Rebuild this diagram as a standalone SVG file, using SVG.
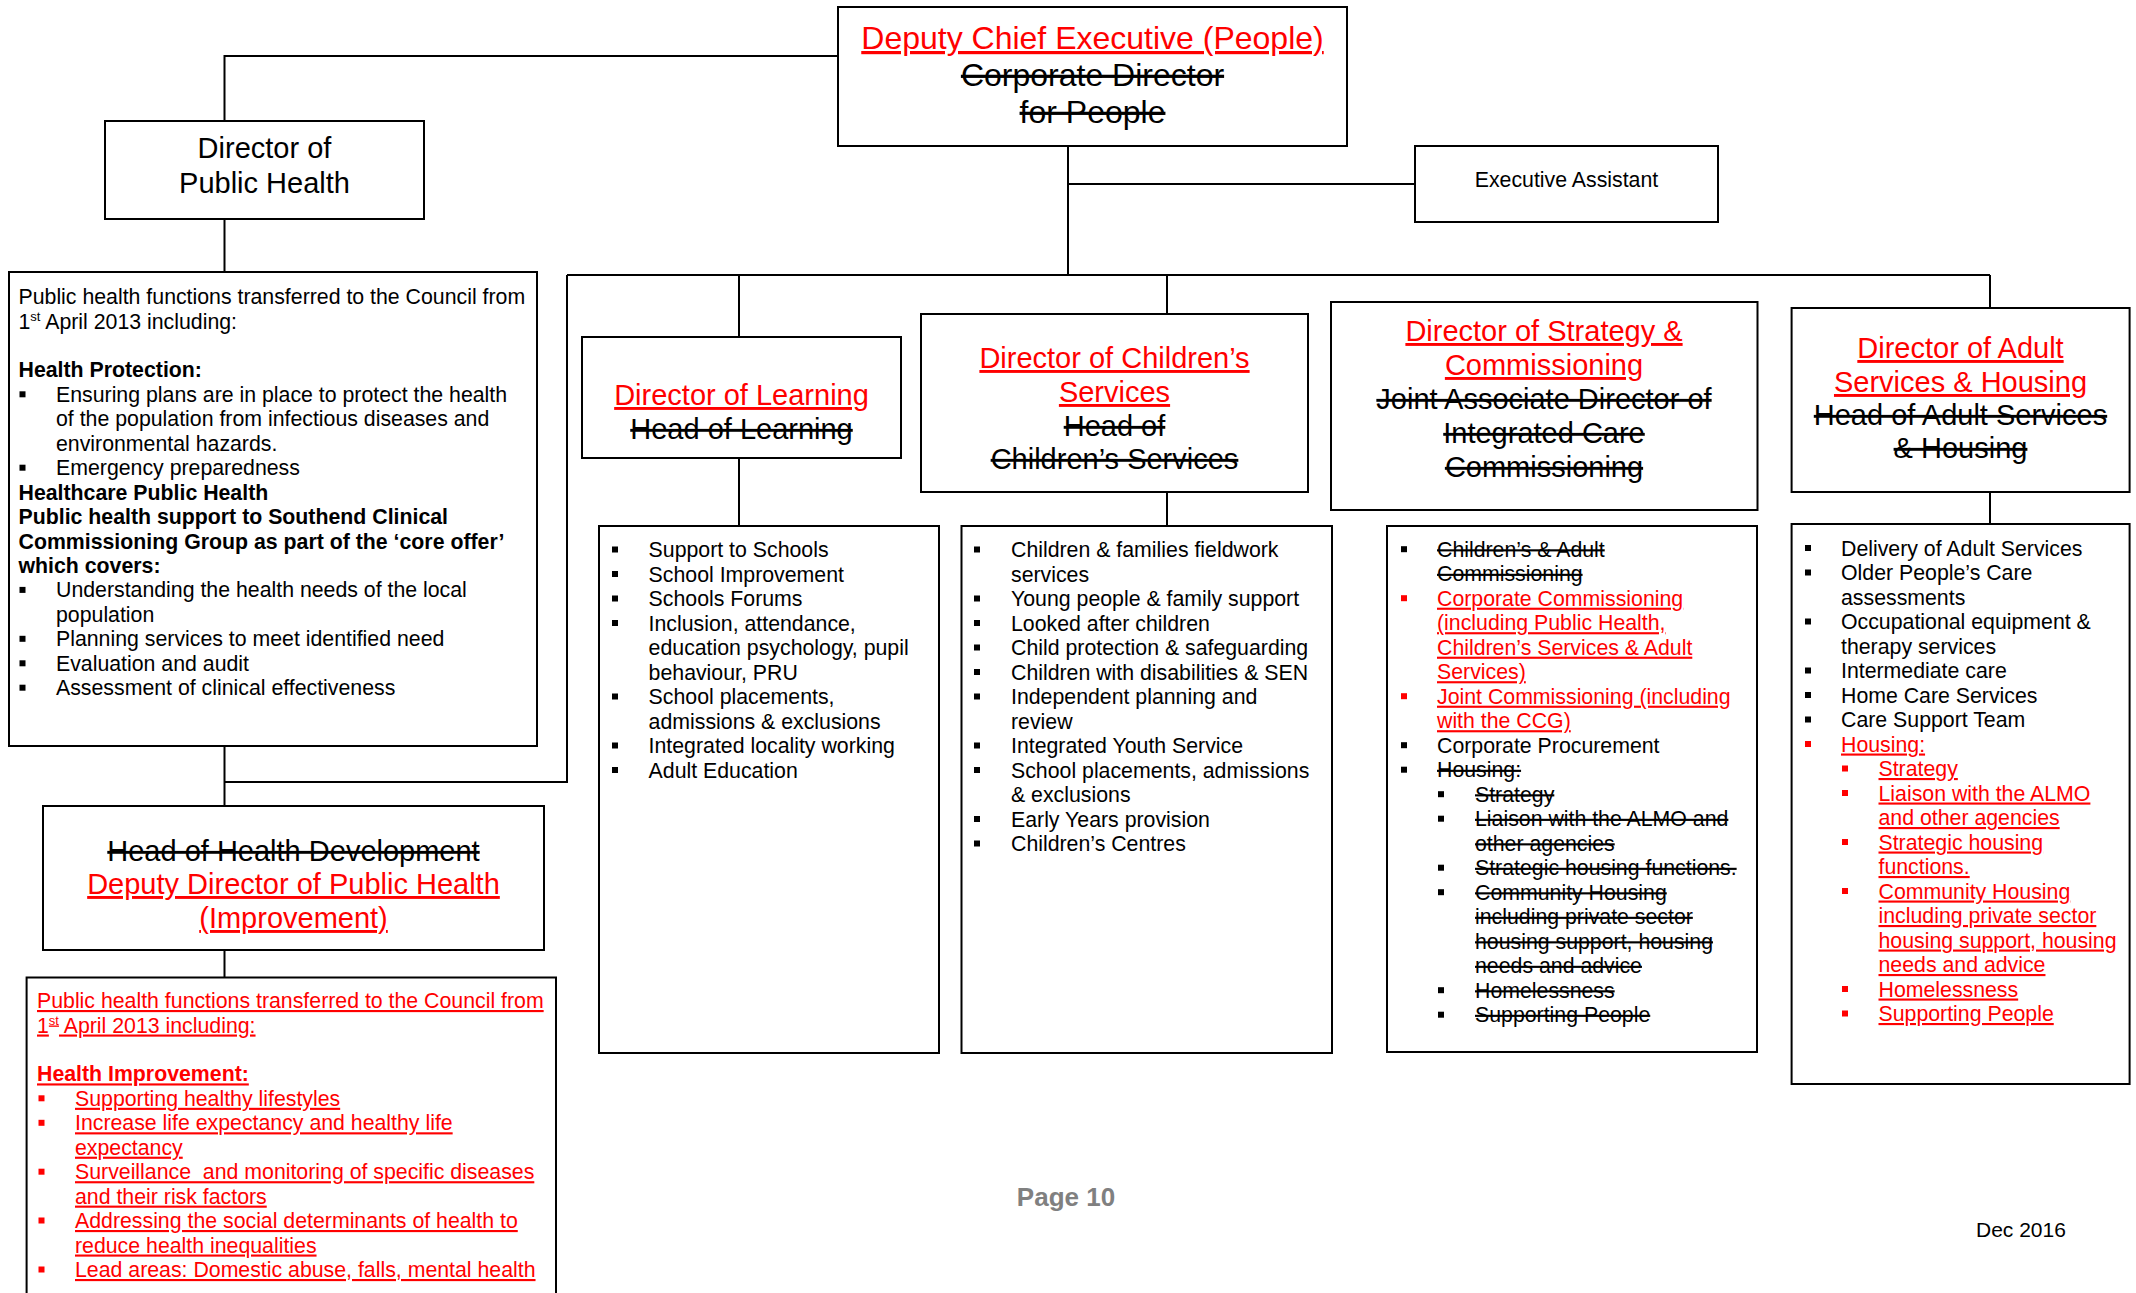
<svg xmlns="http://www.w3.org/2000/svg" width="2136" height="1293" viewBox="0 0 2136 1293">
<style>
text{font-family:"Liberation Sans",Arial,sans-serif;fill:#000}
.box{fill:#fff;stroke:#000;stroke-width:2}
.ln{fill:none;stroke:#000;stroke-width:2}
.h32{font-size:32px;text-anchor:middle}
.h29{font-size:29px;text-anchor:middle}
.t{font-size:21.3px}
.bd{font-weight:bold}
.r{fill:#ff0000;text-decoration:underline}
.s{text-decoration:line-through}
.bk{fill:#000}
.rb{fill:#ff0000}
</style>
<defs>
<rect id="bul" width="6" height="6"/>
</defs>

<g id="connectors">
<polyline class="ln" points="838,56 224.5,56 224.5,121"/>
<line class="ln" x1="224.5" y1="219" x2="224.5" y2="272"/>
<line class="ln" x1="224.5" y1="746" x2="224.5" y2="806"/>
<polyline class="ln" points="567,275 567,782 224.5,782"/>
<line class="ln" x1="224.5" y1="950" x2="224.5" y2="977.5"/>
<line class="ln" x1="1068" y1="146" x2="1068" y2="275"/>
<line class="ln" x1="1068" y1="184" x2="1415" y2="184"/>
<line class="ln" x1="567" y1="275" x2="1990" y2="275"/>
<line class="ln" x1="739" y1="275" x2="739" y2="337"/>
<line class="ln" x1="739" y1="458" x2="739" y2="526"/>
<line class="ln" x1="1167" y1="275" x2="1167" y2="314"/>
<line class="ln" x1="1167" y1="492" x2="1167" y2="526"/>
<line class="ln" x1="1990" y1="275" x2="1990" y2="308"/>
<line class="ln" x1="1990" y1="492" x2="1990" y2="524"/>
</g>

<g id="dce">
<rect class="box" x="838" y="7" width="509" height="139"/>
<text class="h32 r" x="1092.5" y="49">Deputy Chief Executive (People)</text>
<text class="h32 s" x="1092.5" y="86">Corporate Director</text>
<text class="h32 s" x="1092.5" y="123">for People</text>
</g>

<g id="dph">
<rect class="box" x="105" y="121" width="319" height="98"/>
<text class="h29" x="264.5" y="158">Director of</text>
<text class="h29" x="264.5" y="193">Public Health</text>
</g>

<g id="exec-assistant">
<rect class="box" x="1415" y="146" width="303" height="76"/>
<text class="t" x="1566.5" y="187" text-anchor="middle">Executive Assistant</text>
</g>

<g id="ph-functions">
<rect class="box" x="9" y="272" width="528" height="474"/>
<text class="t" x="18.5" y="304">Public health functions transferred to the Council from</text>
<text class="t" x="18.5" y="328.5">1<tspan font-size="13" dy="-8">st</tspan><tspan dy="8"> April 2013 including:</tspan></text>
<text class="t bd" x="18.5" y="377.4">Health Protection:</text>
<use href="#bul" x="19.5" y="391.3"/>
<text class="t" x="56" y="401.8">Ensuring plans are in place to protect the health</text>
<text class="t" x="56" y="426.3">of the population from infectious diseases and</text>
<text class="t" x="56" y="450.7">environmental hazards.</text>
<use href="#bul" x="19.5" y="464.7"/>
<text class="t" x="56" y="475.2">Emergency preparedness</text>
<text class="t bd" x="18.5" y="499.6">Healthcare Public Health</text>
<text class="t bd" x="18.5" y="524">Public health support to Southend Clinical</text>
<text class="t bd" x="18.5" y="548.5">Commissioning Group as part of the ‘core offer’</text>
<text class="t bd" x="18.5" y="573">which covers:</text>
<use href="#bul" x="19.5" y="586.9"/>
<text class="t" x="56" y="597.4">Understanding the health needs of the local</text>
<text class="t" x="56" y="621.9">population</text>
<use href="#bul" x="19.5" y="635.8"/>
<text class="t" x="56" y="646.3">Planning services to meet identified need</text>
<use href="#bul" x="19.5" y="660.3"/>
<text class="t" x="56" y="670.8">Evaluation and audit</text>
<use href="#bul" x="19.5" y="684.7"/>
<text class="t" x="56" y="695.2">Assessment of clinical effectiveness</text>
</g>

<g id="hhd">
<rect class="box" x="43" y="806" width="501" height="144"/>
<text class="h29 s" x="293.5" y="861">Head of Health Development</text>
<text class="h29 r" x="293.5" y="894">Deputy Director of Public Health</text>
<text class="h29 r" x="293.5" y="928">(Improvement)</text>
</g>

<g id="ph-improvement">
<rect class="box" x="26.6" y="977.5" width="529.4" height="330"/>
<text class="t r" x="37" y="1008">Public health functions transferred to the Council from</text>
<text class="t r" x="37" y="1032.5">1<tspan font-size="13" dy="-8">st</tspan><tspan dy="8"> April 2013 including:</tspan></text>
<text class="t r bd" x="37" y="1081.4">Health Improvement:</text>
<use href="#bul" class="rb" x="38.5" y="1095.3"/>
<text class="t r" x="75" y="1105.8">Supporting healthy lifestyles</text>
<use href="#bul" class="rb" x="38.5" y="1119.8"/>
<text class="t r" x="75" y="1130.3">Increase life expectancy and healthy life</text>
<text class="t r" x="75" y="1154.7">expectancy</text>
<use href="#bul" class="rb" x="38.5" y="1168.7"/>
<text class="t r" x="75" y="1179.2" style="white-space:pre">Surveillance  and monitoring of specific diseases</text>
<text class="t r" x="75" y="1203.6">and their risk factors</text>
<use href="#bul" class="rb" x="38.5" y="1217.5"/>
<text class="t r" x="75" y="1228">Addressing the social determinants of health to</text>
<text class="t r" x="75" y="1252.5">reduce health inequalities</text>
<use href="#bul" class="rb" x="38.5" y="1266.5"/>
<text class="t r" x="75" y="1277">Lead areas: Domestic abuse, falls, mental health</text>
</g>

<g id="learning">
<rect class="box" x="582" y="337" width="319" height="121"/>
<text class="h29 r" x="741.5" y="405">Director of Learning</text>
<text class="h29 s" x="741.5" y="439">Head of Learning</text>
</g>

<g id="learning-list">
<rect class="box" x="599" y="526" width="340" height="527"/>
<use href="#bul" x="612" y="546.5"/><text class="t" x="648.6" y="557">Support to Schools</text>
<use href="#bul" x="612" y="571"/><text class="t" x="648.6" y="581.5">School Improvement</text>
<use href="#bul" x="612" y="595.5"/><text class="t" x="648.6" y="606">Schools Forums</text>
<use href="#bul" x="612" y="620"/><text class="t" x="648.6" y="630.5">Inclusion, attendance,</text>
<text class="t" x="648.6" y="655">education psychology, pupil</text>
<text class="t" x="648.6" y="679.5">behaviour, PRU</text>
<use href="#bul" x="612" y="693.5"/><text class="t" x="648.6" y="704">School placements,</text>
<text class="t" x="648.6" y="728.5">admissions &amp; exclusions</text>
<use href="#bul" x="612" y="742.5"/><text class="t" x="648.6" y="753">Integrated locality working</text>
<use href="#bul" x="612" y="767"/><text class="t" x="648.6" y="777.5">Adult Education</text>
</g>

<g id="childrens">
<rect class="box" x="921" y="314" width="387" height="178"/>
<text class="h29 r" x="1114.5" y="368">Director of Children’s</text>
<text class="h29 r" x="1114.5" y="402">Services</text>
<text class="h29 s" x="1114.5" y="436">Head of</text>
<text class="h29 s" x="1114.5" y="469">Children’s Services</text>
</g>

<g id="childrens-list">
<rect class="box" x="961.5" y="526" width="370.5" height="527"/>
<use href="#bul" x="974" y="546.5"/><text class="t" x="1011" y="557">Children &amp; families fieldwork</text>
<text class="t" x="1011" y="581.5">services</text>
<use href="#bul" x="974" y="595.5"/><text class="t" x="1011" y="606">Young people &amp; family support</text>
<use href="#bul" x="974" y="620"/><text class="t" x="1011" y="630.5">Looked after children</text>
<use href="#bul" x="974" y="644.5"/><text class="t" x="1011" y="655">Child protection &amp; safeguarding</text>
<use href="#bul" x="974" y="669"/><text class="t" x="1011" y="679.5">Children with disabilities &amp; SEN</text>
<use href="#bul" x="974" y="693.5"/><text class="t" x="1011" y="704">Independent planning and</text>
<text class="t" x="1011" y="728.5">review</text>
<use href="#bul" x="974" y="742.5"/><text class="t" x="1011" y="753">Integrated Youth Service</text>
<use href="#bul" x="974" y="767"/><text class="t" x="1011" y="777.5">School placements, admissions</text>
<text class="t" x="1011" y="802">&amp; exclusions</text>
<use href="#bul" x="974" y="816"/><text class="t" x="1011" y="826.5">Early Years provision</text>
<use href="#bul" x="974" y="840.5"/><text class="t" x="1011" y="851">Children’s Centres</text>
</g>

<g id="strategy">
<rect class="box" x="1331" y="302" width="426.5" height="208"/>
<text class="h29 r" x="1544" y="341">Director of Strategy &amp;</text>
<text class="h29 r" x="1544" y="375">Commissioning</text>
<text class="h29 s" x="1544" y="409">Joint Associate Director of</text>
<text class="h29 s" x="1544" y="443">Integrated Care</text>
<text class="h29 s" x="1544" y="477">Commissioning</text>
</g>

<g id="strategy-list">
<rect class="box" x="1387" y="526" width="370" height="526"/>
<use href="#bul" x="1401" y="546.2"/><text class="t s" x="1437" y="556.7">Children’s &amp; Adult</text>
<text class="t s" x="1437" y="581.2">Commissioning</text>
<use href="#bul" class="rb" x="1401" y="595.2"/><text class="t r" x="1437" y="605.7">Corporate Commissioning</text>
<text class="t r" x="1437" y="630.2">(including Public Health,</text>
<text class="t r" x="1437" y="654.7">Children’s Services &amp; Adult</text>
<text class="t r" x="1437" y="679.2">Services)</text>
<use href="#bul" class="rb" x="1401" y="693.2"/><text class="t r" x="1437" y="703.7">Joint Commissioning (including</text>
<text class="t r" x="1437" y="728.2">with the CCG)</text>
<use href="#bul" x="1401" y="742.2"/><text class="t" x="1437" y="752.7">Corporate Procurement</text>
<use href="#bul" x="1401" y="766.7"/><text class="t s" x="1437" y="777.2">Housing:</text>
<use href="#bul" x="1438" y="791.2"/><text class="t s" x="1475" y="801.7">Strategy</text>
<use href="#bul" x="1438" y="815.7"/><text class="t s" x="1475" y="826.2">Liaison with the ALMO and</text>
<text class="t s" x="1475" y="850.7">other agencies</text>
<use href="#bul" x="1438" y="864.7"/><text class="t s" x="1475" y="875.2">Strategic housing functions.</text>
<use href="#bul" x="1438" y="889.2"/><text class="t s" x="1475" y="899.7">Community Housing</text>
<text class="t s" x="1475" y="924.2">including private sector</text>
<text class="t s" x="1475" y="948.7">housing support, housing</text>
<text class="t s" x="1475" y="973.2">needs and advice</text>
<use href="#bul" x="1438" y="987.2"/><text class="t s" x="1475" y="997.7">Homelessness</text>
<use href="#bul" x="1438" y="1011.7"/><text class="t s" x="1475" y="1022.2">Supporting People</text>
</g>

<g id="adult">
<rect class="box" x="1791.6" y="308" width="338" height="184"/>
<text class="h29 r" x="1960.5" y="358">Director of Adult</text>
<text class="h29 r" x="1960.5" y="392">Services &amp; Housing</text>
<text class="h29 s" x="1960.5" y="425">Head of Adult Services</text>
<text class="h29 s" x="1960.5" y="458">&amp; Housing</text>
</g>

<g id="adult-list">
<rect class="box" x="1791.6" y="524" width="338" height="560"/>
<use href="#bul" x="1805" y="545"/><text class="t" x="1841" y="555.5">Delivery of Adult Services</text>
<use href="#bul" x="1805" y="569.5"/><text class="t" x="1841" y="580">Older People’s Care</text>
<text class="t" x="1841" y="604.5">assessments</text>
<use href="#bul" x="1805" y="618.5"/><text class="t" x="1841" y="629">Occupational equipment &amp;</text>
<text class="t" x="1841" y="653.5">therapy services</text>
<use href="#bul" x="1805" y="667.5"/><text class="t" x="1841" y="678">Intermediate care</text>
<use href="#bul" x="1805" y="692"/><text class="t" x="1841" y="702.5">Home Care Services</text>
<use href="#bul" x="1805" y="716.5"/><text class="t" x="1841" y="727">Care Support Team</text>
<use href="#bul" class="rb" x="1805" y="741"/><text class="t r" x="1841" y="751.5">Housing:</text>
<use href="#bul" class="rb" x="1842" y="765.5"/><text class="t r" x="1878.5" y="776">Strategy</text>
<use href="#bul" class="rb" x="1842" y="790"/><text class="t r" x="1878.5" y="800.5">Liaison with the ALMO</text>
<text class="t r" x="1878.5" y="825">and other agencies</text>
<use href="#bul" class="rb" x="1842" y="839"/><text class="t r" x="1878.5" y="849.5">Strategic housing</text>
<text class="t r" x="1878.5" y="874">functions.</text>
<use href="#bul" class="rb" x="1842" y="888"/><text class="t r" x="1878.5" y="898.5">Community Housing</text>
<text class="t r" x="1878.5" y="923">including private sector</text>
<text class="t r" x="1878.5" y="947.5">housing support, housing</text>
<text class="t r" x="1878.5" y="972">needs and advice</text>
<use href="#bul" class="rb" x="1842" y="986"/><text class="t r" x="1878.5" y="996.5">Homelessness</text>
<use href="#bul" class="rb" x="1842" y="1010.5"/><text class="t r" x="1878.5" y="1021">Supporting People</text>
</g>

<g id="footer">
<text x="1066" y="1206" font-size="26" font-weight="bold" text-anchor="middle" style="fill:#808080">Page 10</text>
<text x="1976" y="1237" font-size="21">Dec 2016</text>
</g>
</svg>
